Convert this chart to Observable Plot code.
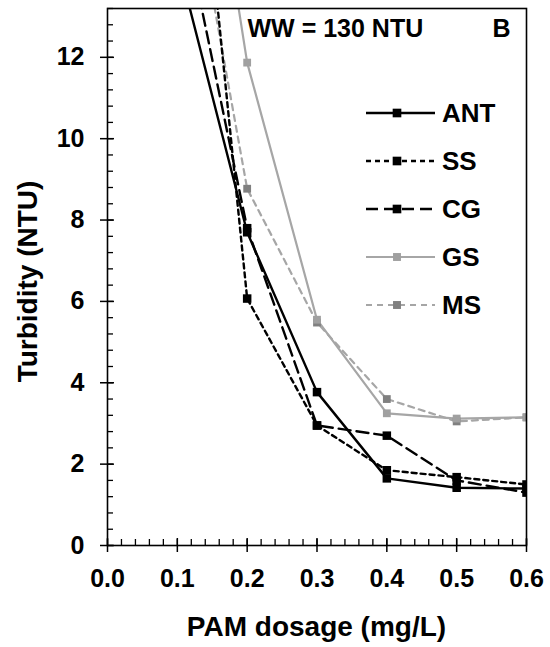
<!DOCTYPE html>
<html>
<head>
<meta charset="utf-8">
<script src="https://cdn.jsdelivr.net/npm/d3@7"></script>
<script src="https://cdn.jsdelivr.net/npm/@observablehq/plot@0.6"></script>
<style>
  html, body { margin: 0; padding: 0; background: #fff; }
  #chart { position: relative; width: 550px; height: 647px; font-family: "Liberation Sans", Arial, sans-serif; }
  #chart svg { font-family: "Liberation Sans", Arial, sans-serif; }
  #legend { position: absolute; left: 0; top: 0; }
</style>
</head>
<body>
<div id="chart"></div>
<script>
// ---- data ----
const dosage = [0.1, 0.2, 0.3, 0.4, 0.5, 0.6];
const seriesNames = ["ANT", "SS", "CG", "GS", "MS"];
const ant = [14.4, 7.7, 3.77, 1.65, 1.42, 1.40];
const ss  = [23.0, 6.07, 2.95, 1.85, 1.68, 1.50];
const cg  = [16.1, 7.8, 2.95, 2.70, 1.60, 1.30];
const gs  = [22.8, 11.87, 5.55, 3.25, 3.12, 3.15];
const ms  = [18.3, 8.77, 5.48, 3.60, 3.05, 3.15];
const xTicks = [0, 0.1, 0.2, 0.3, 0.4, 0.5, 0.6];
const yTicks = [0, 2, 4, 6, 8, 10, 12];
const annotation = "WW = 130 NTU";
const panelLabel = "B";

// ---- styles ----
const styles = {
  ANT: {stroke: "#000", width: 2.4, dash: null, marker: "#000", r: 4.8},
  SS:  {stroke: "#000", width: 2.4, dash: "5,4", marker: "#000", r: 4.8},
  CG:  {stroke: "#000", width: 2.4, dash: "12,6", marker: "#000", r: 4.8},
  GS:  {stroke: "#a6a6a6", width: 2.2, dash: null, marker: "#a0a0a0", r: 4.4},
  MS:  {stroke: "#a6a6a6", width: 2.2, dash: "6,5", marker: "#808080", r: 4.4}
};
const valuesByName = {ANT: ant, SS: ss, CG: cg, GS: gs, MS: ms};
const rows = seriesNames.flatMap(name => dosage.map((x, i) => ({name, x, y: valuesByName[name][i]})));

const W = 550, H = 647;
const mL = 107, mR = 24, mT = 8, mB = 102;
const plotW = W - mL - mR, plotH = H - mT - mB;

const xMinor = d3.range(0, 0.6001, 0.02).map(v => +v.toFixed(2));
const yMinor = d3.range(0, 13.2001, 0.4).map(v => +v.toFixed(1));

const marks = [];
for (const name of ["MS", "GS", "CG", "SS", "ANT"]) {
  const s = styles[name];
  const data = rows.filter(d => d.name === name);
  marks.push(Plot.line(data, {x: "x", y: "y", stroke: s.stroke, strokeWidth: s.width, strokeDasharray: s.dash, clip: true}));
}
for (const name of ["MS", "GS", "CG", "SS", "ANT"]) {
  const s = styles[name];
  const data = rows.filter(d => d.name === name);
  marks.push(Plot.dot(data, {x: "x", y: "y", symbol: "square", r: s.r, fill: s.marker, stroke: "none", clip: true}));
}
// minor inward ticks
marks.push(Plot.tickX(xMinor, {x: d => d, insetTop: plotH - 6, stroke: "#000", strokeWidth: 1.3}));
marks.push(Plot.tickY(yMinor, {y: d => d, insetRight: plotW - 6, stroke: "#000", strokeWidth: 1.3}));
// major inward ticks
marks.push(Plot.tickX(xTicks, {x: d => d, insetTop: plotH - 7, stroke: "#000", strokeWidth: 1.5}));
marks.push(Plot.tickY(yTicks, {y: d => d, insetRight: plotW - 7, stroke: "#000", strokeWidth: 1.5}));
// axes
marks.push(Plot.axisX({ticks: xTicks, tickSize: 7, tickPadding: 17, tickFormat: d3.format(".1f"),
  fontSize: 25, fontWeight: "bold", strokeWidth: 1.5, label: null}));
marks.push(Plot.axisY({ticks: yTicks, tickSize: 7, tickPadding: 16, tickFormat: d => d,
  fontSize: 25, fontWeight: "bold", strokeWidth: 1.5, label: null}));
marks.push(Plot.frame({stroke: "#000", strokeWidth: 1.6}));
// annotation
marks.push(Plot.text([annotation], {frameAnchor: "top-left", text: d => d, dx: 140, dy: 11, textAnchor: "start", lineAnchor: "top", fontSize: 25, fontWeight: "bold", fill: "#000"}));
marks.push(Plot.text([panelLabel], {frameAnchor: "top-left", text: d => d, dx: 385, dy: 11, textAnchor: "start", lineAnchor: "top", fontSize: 25, fontWeight: "bold", fill: "#000"}));

const chart = Plot.plot({
  width: W, height: H,
  marginLeft: mL, marginRight: mR, marginTop: mT, marginBottom: mB,
  style: {fontFamily: "Liberation Sans, Arial, sans-serif", background: "#fff", color: "#000"},
  x: {domain: [0, 0.6]},
  y: {domain: [0, 13.2]},
  marks
});

const svg = d3.select(chart);
svg.append("text")
  .attr("x", mL + plotW / 2).attr("y", 636)
  .attr("text-anchor", "middle")
  .attr("font-size", 28).attr("font-weight", "bold").attr("fill", "#000")
  .text("PAM dosage (mg/L)");
svg.append("text")
  .attr("transform", `translate(37, ${mT + plotH / 2 + 5}) rotate(-90)`)
  .attr("text-anchor", "middle")
  .attr("font-size", 28).attr("font-weight", "bold").attr("fill", "#000")
  .text("Turbidity (NTU)");

document.getElementById("chart").appendChild(chart);

// legend overlay inside the plot area
const legend = d3.select("#chart").append("svg")
  .attr("id", "legend").attr("width", W).attr("height", H)
  .style("pointer-events", "none");
const lg = legend.selectAll("g").data(seriesNames).join("g")
  .attr("transform", (d, i) => `translate(366, ${113 + i * 48})`);
lg.append("line").attr("x1", 0).attr("x2", 69).attr("y1", 0).attr("y2", 0)
  .attr("stroke", d => styles[d].stroke).attr("stroke-width", d => styles[d].width)
  .attr("stroke-dasharray", d => styles[d].dash);
lg.append("rect").attr("x", d => 31 - styles[d].r * 0.9).attr("y", d => -styles[d].r * 0.9)
  .attr("width", d => styles[d].r * 1.8).attr("height", d => styles[d].r * 1.8)
  .attr("fill", d => styles[d].marker);
lg.append("text").attr("x", 76).attr("y", 0).attr("dy", "0.36em")
  .attr("font-family", "Liberation Sans, Arial, sans-serif")
  .attr("font-size", 26).attr("font-weight", "bold").attr("fill", "#000")
  .text(d => d);
</script>
</body>
</html>
